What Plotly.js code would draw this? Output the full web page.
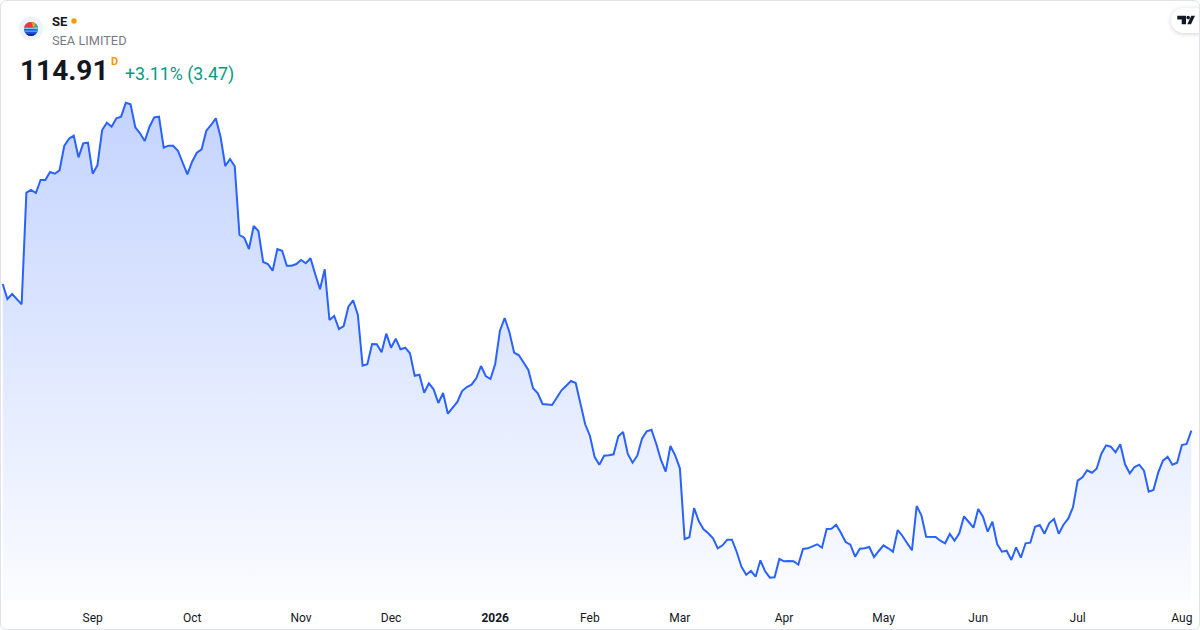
<!DOCTYPE html>
<html>
<head>
<meta charset="utf-8">
<script src="https://cdn.plot.ly/plotly-3.0.1.min.js"></script>
<style>
  html, body { margin: 0; padding: 0; background: #ffffff; }
  #wrap { position: relative; width: 1200px; height: 630px; overflow: hidden; }
  #chart { position: absolute; left: 0; top: 0; width: 1200px; height: 630px; }
  #frame { position: absolute; left: 0; top: 0; width: 1200px; height: 630px; box-sizing: border-box;
           border: 1px solid #e0e3eb; border-radius: 6px; pointer-events: none; }
  #logo { position: absolute; left: 0; top: 0; pointer-events: none; }
  #tv { position: absolute; left: 1171px; top: 8px; width: 44px; height: 25px; border-radius: 13px;
        background: #ffffff; box-shadow: 0 1px 5px rgba(0,0,0,0.18); pointer-events: none; }
</style>
</head>
<body>
<div id="wrap">
  <div id="chart"></div>
  <svg id="logo" width="60" height="50" viewBox="0 0 60 50">
    <defs><clipPath id="ball"><circle cx="31" cy="29" r="7"/></clipPath></defs>
    <circle cx="31" cy="28.5" r="12" fill="#eff2f8"/>
    <g clip-path="url(#ball)">
      <rect x="23" y="21" width="16" height="16" fill="#1d4fd6"/>
      <rect x="23" y="21" width="16" height="6" fill="#ef3b2d"/>
      <path d="M31 21 L39 21 L39 28 L33 27 Z" fill="#ff9f1c"/>
      <path d="M35 24 L39 24 L39 30 L34 29 Z" fill="#2bb673"/>
      <rect x="23" y="27.5" width="16" height="1.6" fill="#6fd3ff"/>
      <rect x="23" y="30.5" width="16" height="1.3" fill="#4fb3ff"/>
      <rect x="23" y="34" width="16" height="3" fill="#102a7a"/>
    </g>
  </svg>
  <div id="tv">
    <svg width="44" height="25" viewBox="0 0 44 25">
      <path d="M6.3 7.7 H15 V16.3 H10.7 V11.4 H6.3 Z" fill="#131722"/>
      <circle cx="17.2" cy="9.6" r="1.8" fill="#131722"/>
      <path d="M20.3 7.7 H24 L20 16.3 H16.3 Z" fill="#131722"/>
    </svg>
  </div>
  <div id="frame"></div>
</div>
<script>
// Daily closes of SE (Sea Limited), Aug 2025 - Aug 2026, one value per trading day
const closes = [
  153.05, 149.15, 150.45, 149.15, 147.77, 176.79, 177.49, 176.71, 180.09, 180.09,
  182.17, 181.73, 182.61, 188.93, 190.83, 191.61, 185.99, 189.63, 189.79, 181.73,
  183.91, 193.09, 194.99, 193.95, 196.13, 196.55, 200.19, 199.77, 193.79, 192.23,
  190.23, 193.95, 196.39, 196.55, 188.49, 189.01, 189.01, 187.71, 184.85, 181.57,
  184.85, 187.19, 188.07, 192.91, 194.39, 196.13, 191.35, 183.73, 185.55, 183.65,
  165.79, 165.09, 162.15,
  168.13, 166.83, 158.77, 158.25, 156.51, 162.15, 161.71, 157.81, 157.81, 158.25,
  159.29, 158.43, 159.73, 155.57, 151.67, 156.87, 143.69, 144.73, 141.35, 142.13,
  147.15, 148.81, 144.99, 131.81, 132.17, 137.45, 137.37, 135.29, 140.13, 136.49,
  138.83, 136.07, 136.49, 135.03, 129.21, 129.47, 124.79, 127.23, 125.67, 122.11,
  124.71, 119.33, 120.81, 122.37, 125.23, 126.27, 126.87, 128.53, 131.73, 129.13,
  128.35,
  132.25, 140.91, 144.21, 140.49, 135.19, 134.51, 132.69, 130.69, 125.93, 124.63,
  121.85, 121.67, 121.59, 123.49, 125.41, 126.61, 127.83, 127.31, 122.11, 116.57,
  113.61, 108.07, 106.07, 108.41, 108.51, 108.77, 113.45, 114.57, 108.85, 106.59,
  108.41, 112.83, 114.75, 115.17, 111.53, 107.29, 104.25, 110.93, 108.51, 105.13,
  86.75, 87.19, 94.81, 91.35, 89.27, 88.23, 86.93, 84.33,
  85.11, 86.57, 86.57, 83.37, 79.55, 77.47, 78.43, 76.95, 81.21, 78.35,
  76.69, 76.79, 81.55, 80.95, 81.03, 80.95, 80.07, 84.15, 84.33, 84.93,
  85.37, 84.49, 89.35, 89.43, 90.47, 88.39, 85.97, 85.27, 82.15, 84.23,
  84.33, 84.67, 82.07, 83.63, 85.11, 84.33, 83.45, 89.09, 87.53, 85.63,
  83.81, 95.33, 92.91, 87.35, 87.27, 87.27, 86.31, 85.63, 88.05, 86.31,
  88.23,
  92.65, 91.17, 89.69, 94.55, 92.55, 88.65, 91.25, 85.45, 83.45, 83.71,
  81.29, 84.59, 81.89, 85.63, 85.79, 89.95, 90.39, 88.13, 90.91, 91.95,
  88.13, 90.47, 92.03, 94.99, 101.91, 102.79, 104.61, 103.99, 105.03, 108.93,
  111.11, 110.75, 109.29, 111.37, 106.17, 103.83, 105.47, 106.07, 104.51, 99.05,
  99.49, 103.99, 107.11, 108.15, 106.07, 106.59, 111.19, 111.45, 114.91
];

// Month labels sit on the first trading day of each month (trading-day index)
const tickIndex = [19, 40, 63, 82, 104, 124, 143, 165, 186, 206, 227, 249];
const tickLabels = ['Sep', 'Oct', 'Nov', 'Dec', '<b>2026</b>', 'Feb', 'Mar', 'Apr', 'May', 'Jun', 'Jul', 'Aug'];

const symbol = 'SE';
const company = 'SEA LIMITED';
const lastPrice = '114.91';
const changeText = '+3.11% (3.47)';
const interval = 'D';

const FONT = 'Roboto, "Noto Sans", "DejaVu Sans", sans-serif';
const PLOT_H = 600; // plot-area height in px (top of page to top of axis labels)
const px = (x) => x / 1200;
const py = (y) => 1 - y / PLOT_H;

const trace = {
  y: closes,
  type: 'scatter',
  mode: 'lines',
  line: { color: '#2962ff', width: 2 },
  fill: 'tozeroy',
  fillgradient: {
    type: 'vertical',
    start: 70.89,
    stop: 226.89,
    colorscale: [[0, 'rgba(41,98,255,0.02)'], [1, 'rgba(41,98,255,0.33)']]
  },
  hoverinfo: 'skip'
};

const layout = {
  width: 1200,
  height: 630,
  margin: { l: 0, r: 0, t: 0, b: 30 },
  paper_bgcolor: '#ffffff',
  plot_bgcolor: '#ffffff',
  showlegend: false,
  font: { family: FONT, color: '#131722' },
  xaxis: {
    range: [-0.57, 252.83],
    showgrid: false, zeroline: false, showline: false,
    tickmode: 'array', tickvals: tickIndex, ticktext: tickLabels,
    tickfont: { family: FONT, size: 12, color: '#131722' },
    ticks: 'outside', ticklen: 7, tickcolor: 'rgba(0,0,0,0)',
    fixedrange: true
  },
  yaxis: {
    range: [70.89, 226.89],
    visible: false, showgrid: false, zeroline: false, fixedrange: true
  },
  shapes: [
    { type: 'circle', xref: 'paper', yref: 'paper', fillcolor: '#ff9800', line: { width: 0 },
      x0: px(71.3), x1: px(76.7), y0: py(23.7), y1: py(18.3) }
  ],
  annotations: [
    { text: '<b>' + symbol + '</b>', x: px(50), y: py(21), xref: 'paper', yref: 'paper',
      xanchor: 'left', yanchor: 'middle', showarrow: false, font: { family: FONT, size: 13, color: '#131722' } },
    { text: company, x: px(50), y: py(40.5), xref: 'paper', yref: 'paper',
      xanchor: 'left', yanchor: 'middle', showarrow: false, font: { family: FONT, size: 12.8, color: '#787b86' } },
    { text: '<b>' + lastPrice + '</b>', x: px(17.5), y: py(70.5), xref: 'paper', yref: 'paper',
      xanchor: 'left', yanchor: 'middle', showarrow: false, font: { family: FONT, size: 28, color: '#131722' } },
    { text: '<b>' + interval + '</b>', x: px(108.5), y: py(61), xref: 'paper', yref: 'paper',
      xanchor: 'left', yanchor: 'middle', showarrow: false, font: { family: FONT, size: 11, color: '#ff9800' } },
    { text: changeText, x: px(122.5), y: py(74.5), xref: 'paper', yref: 'paper',
      xanchor: 'left', yanchor: 'middle', showarrow: false, font: { family: FONT, size: 17.8, color: '#089981' } }
  ]
};

Plotly.newPlot('chart', [trace], layout, { displayModeBar: false, staticPlot: true });
</script>
</body>
</html>
